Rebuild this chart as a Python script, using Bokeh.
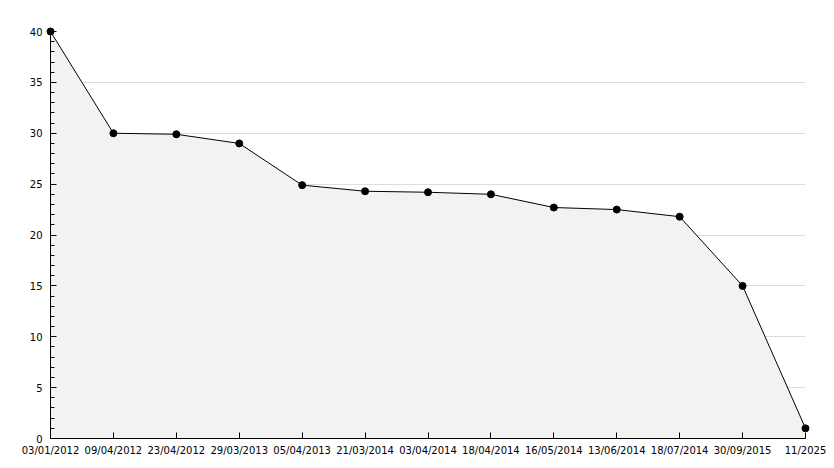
from bokeh.plotting import figure
from bokeh.models import Range1d, FixedTicker
from bokeh.embed import file_html
from bokeh.resources import INLINE

dates = ["03/01/2012", "09/04/2012", "23/04/2012", "29/03/2013", "05/04/2013",
         "21/03/2014", "03/04/2014", "18/04/2014", "16/05/2014", "13/06/2014",
         "18/07/2014", "30/09/2015", "11/2025"]
values = [40, 30, 29.9, 29.0, 24.9, 24.3, 24.2, 24.0, 22.7, 22.5, 21.8, 15.0, 1.0]
y_ticks = [0, 5, 10, 15, 20, 25, 30, 35, 40]

xs = list(range(len(dates)))

p = figure(width=830, height=464, output_backend="svg", toolbar_location=None,
           x_range=Range1d(0, len(dates) - 1), y_range=Range1d(0, 40),
           min_border_left=50, min_border_right=25, min_border_top=31, min_border_bottom=26)
p.outline_line_color = None
p.background_fill_color = "white"

p.varea(x=xs, y1=[0] * len(xs), y2=values, fill_color="#f2f2f2")
p.line(xs, values, line_color="black", line_width=1)
p.scatter(xs, values, marker="circle", size=7, fill_color="black", line_color="black",
          level="overlay")

p.xgrid.grid_line_color = None
p.ygrid.grid_line_color = "#dddddd"
p.ygrid.grid_line_width = 1

p.xaxis.ticker = FixedTicker(ticks=xs)
p.xaxis.major_label_overrides = {i: d for i, d in enumerate(dates)}
p.yaxis.ticker = FixedTicker(ticks=y_ticks, minor_ticks=list(range(0, 41)))

for ax in (p.xaxis[0], p.yaxis[0]):
    ax.axis_line_color = "black"
    ax.axis_line_width = 1
    ax.major_tick_line_color = "black"
    ax.minor_tick_line_color = "black"
    ax.major_tick_out = 0
    ax.major_tick_in = 6
    ax.minor_tick_out = 0
    ax.minor_tick_in = 4
    ax.major_label_text_font = "DejaVu Sans"
    ax.major_label_text_font_size = "10px"
    ax.major_label_text_color = "black"

p.xaxis.minor_tick_line_color = None
p.xaxis.major_label_standoff = 6
p.yaxis.major_label_standoff = 8

open("out.html", "w").write(file_html(p, INLINE))
